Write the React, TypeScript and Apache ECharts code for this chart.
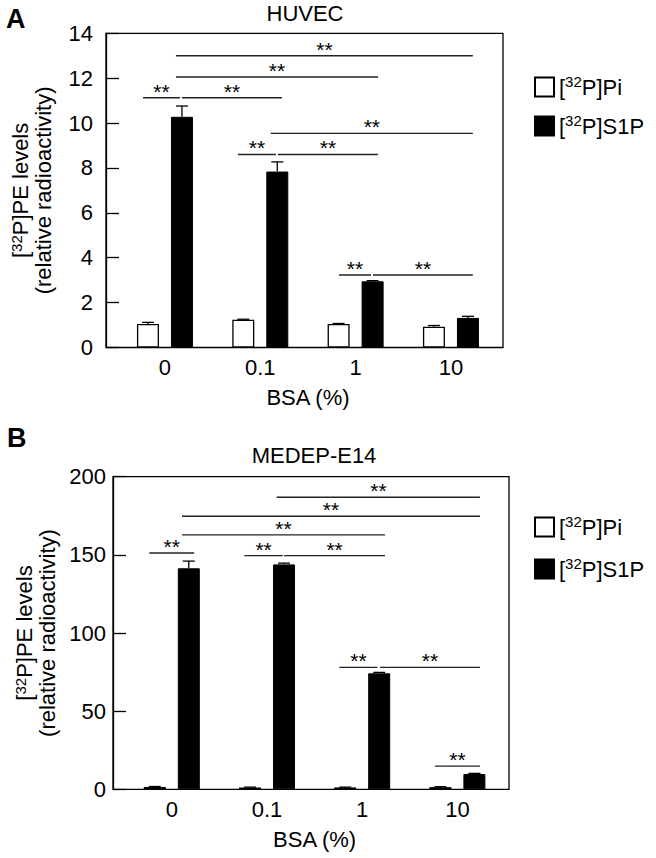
import React, { useEffect, useRef } from "react";
import * as echarts from "echarts";

const categories = ["0", "0.1", "1", "10"];
const seriesNames = ["[32P]Pi", "[32P]S1P"];

// Panel A: HUVEC
const huvecPi = [1.05, 1.24, 1.05, 0.93];
const huvecPiErr = [0.07, 0.02, 0.02, 0.05];
const huvecS1P = [10.28, 7.84, 2.95, 1.32];
const huvecS1PErr = [0.48, 0.43, 0.03, 0.07];
// significance brackets: [from (category units), to, level]
const huvecBrackets = [
  [0.115, 3.23, 13.0],
  [0.115, 2.235, 12.05],
  [-0.23, 0.157, 11.13],
  [0.178, 1.227, 11.13],
  [1.11, 3.23, 9.54],
  [0.766, 1.164, 8.6],
  [1.185, 2.234, 8.6],
  [1.825, 2.161, 3.23],
  [2.182, 3.23, 3.23],
];
const huvecTicks = [0, 14, 2];

// Panel B: MEDEP-E14
const medepPi = [1.5, 1.2, 1.2, 1.4];
const medepPiErr = [0.3, 0.2, 0.2, 0.3];
const medepS1P = [141.4, 143.9, 74.2, 9.8];
const medepS1PErr = [4.6, 0.8, 0.6, 0.4];
const medepBrackets = [
  [1.103, 3.237, 186.9],
  [0.107, 3.237, 174.7],
  [0.107, 2.24, 162.8],
  [-0.236, 0.235, 151.2],
  [0.762, 1.166, 149.5],
  [1.18, 2.24, 149.5],
  [1.76, 2.16, 78.0],
  [2.187, 3.237, 78.0],
  [2.765, 3.237, 14.8],
];
const medepTicks = [0, 200, 50];

const FONT = '"Liberation Sans", Arial, sans-serif';
const FS = 22;
const BAR_W = 22;
const BAR_GAP_PX = 12;

function sup(name: string) {
  return name.replace(/\[(\d+)/, "{n|[}{s|$1}{n|") + "}";
}

const richText = {
  n: { fontSize: FS, lineHeight: 26, fontFamily: FONT, color: "#000", verticalAlign: "middle" },
  s: { fontSize: 15, lineHeight: 15, fontFamily: FONT, color: "#000", verticalAlign: "top" },
};
const nameRich = {
  n: { fontSize: FS, lineHeight: 23, fontFamily: FONT, color: "#000", verticalAlign: "middle" },
  s: { fontSize: 15, lineHeight: 15, fontFamily: FONT, color: "#000", verticalAlign: "top" },
};

function errorSeries(name: string, vals: number[], errs: number[], sign: number, xAxisIndex: number, yAxisIndex: number) {
  const dx = (sign * (BAR_W + BAR_GAP_PX)) / 2;
  return {
    type: "custom",
    name: name + " err",
    xAxisIndex,
    yAxisIndex,
    z: 5,
    silent: true,
    data: vals.map((v, i) => [i, v, errs[i]]),
    encode: { x: 0, y: 1 },
    renderItem: (params: any, api: any) => {
      const c = api.coord([api.value(0), api.value(1)]);
      const t = api.coord([api.value(0), api.value(1) + api.value(2)]);
      const x = c[0] + dx;
      return {
        type: "group",
        children: [
          { type: "line", shape: { x1: x, y1: c[1], x2: x, y2: t[1] }, style: { stroke: "#000", lineWidth: 1.3 } },
          { type: "line", shape: { x1: x - 6, y1: t[1], x2: x + 6, y2: t[1] }, style: { stroke: "#000", lineWidth: 1.3 } },
        ],
      };
    },
  };
}

function bracketSeries(data: number[][], xAxisIndex: number, yAxisIndex: number) {
  return {
    type: "custom",
    xAxisIndex,
    yAxisIndex,
    z: 6,
    silent: true,
    data,
    encode: { x: [0, 1], y: 2 },
    renderItem: (params: any, api: any) => {
      const a = api.coord([api.value(0), api.value(2)]);
      const b = api.coord([api.value(1), api.value(2)]);
      return {
        type: "group",
        children: [
          { type: "line", shape: { x1: a[0], y1: a[1], x2: b[0], y2: b[1] }, style: { stroke: "#222", lineWidth: 1.4 } },
          {
            type: "text",
            x: (a[0] + b[0]) / 2,
            y: a[1] - 6.5,
            style: { text: "**", align: "center", verticalAlign: "middle", font: `21px ${FONT}`, fill: "#000" },
          },
        ],
      };
    },
  };
}

function panelAxes(
  frame: { left: number; top: number; width: number; height: number },
  bars: { left: number; width: number },
  ticks: number[],
  labelMargin: number,
  nameGap: number,
  gridBase: number
) {
  const grids = [
    { left: frame.left, top: frame.top, width: frame.width, height: frame.height, show: true, borderColor: "#000", borderWidth: 1.3, backgroundColor: "transparent" },
    { left: bars.left, top: frame.top, width: bars.width, height: frame.height },
  ];
  const xAxes = [
    { gridIndex: gridBase, type: "value", show: false, min: 0, max: 1 },
    {
      gridIndex: gridBase + 1,
      type: "category",
      data: categories,
      axisLine: { show: false },
      axisTick: { show: false },
      axisLabel: { color: "#000", fontSize: FS, fontFamily: FONT, margin: 9 },
      name: "BSA (%)",
      nameLocation: "middle",
      nameGap: 39,
      nameTextStyle: { color: "#000", fontSize: FS, fontFamily: FONT },
    },
    { gridIndex: gridBase + 1, type: "value", show: false, min: -0.5, max: 3.5 },
  ];
  const yAxes = [
    {
      gridIndex: gridBase,
      type: "value",
      min: ticks[0],
      max: ticks[1],
      interval: ticks[2],
      axisLine: { show: true, lineStyle: { color: "#000", width: 1.3 } },
      axisTick: { show: true, inside: true, length: 13, lineStyle: { color: "#000", width: 1.3 } },
      splitLine: { show: false },
      axisLabel: { color: "#000", fontSize: FS, fontFamily: FONT, margin: labelMargin },
      name: "{n|[}{s|32}{n|P]PE levels}\n{n|(relative radioactivity)}",
      nameLocation: "middle",
      nameRotate: 90,
      nameGap,
      nameTextStyle: { rich: nameRich },
    },
    { gridIndex: gridBase + 1, type: "value", show: false, min: ticks[0], max: ticks[1], interval: ticks[2] },
  ];
  return { grids, xAxes, yAxes };
}

export default function App() {
  const ref = useRef<HTMLDivElement>(null);
  useEffect(() => {
    if (!ref.current) return;
    const chart = echarts.init(ref.current, null, { renderer: "svg" });

    const A = panelAxes({ left: 106, top: 33.3, width: 397, height: 314.2 }, { left: 117.3, width: 381.3 }, huvecTicks, 13, 51, 0);
    const B = panelAxes({ left: 113, top: 476.7, width: 396, height: 312.6 }, { left: 124.2, width: 380.8 }, medepTicks, 7, 53, 2);

    const barStyles = [
      { color: "#fff", borderColor: "#000", borderWidth: 1.3 },
      { color: "#000", borderColor: "#000", borderWidth: 1 },
    ];

    const makeBars = (vals: number[], idx: number, xAxisIndex: number, yAxisIndex: number) => ({
      type: "bar",
      name: seriesNames[idx],
      xAxisIndex,
      yAxisIndex,
      data: vals,
      barWidth: BAR_W,
      barGap: `${(BAR_GAP_PX / BAR_W) * 100}%`,
      itemStyle: barStyles[idx],
      silent: true,
    });

    const legendBase = {
      data: seriesNames,
      orient: "vertical",
      left: 529,
      icon: "rect",
      itemWidth: 19,
      itemHeight: 19,
      selectedMode: false,
      formatter: (name: string) => sup(name),
      textStyle: { rich: richText },
    };

    const option: any = {
      animation: false,
      backgroundColor: "#fff",
      grid: [...A.grids, ...B.grids],
      xAxis: [...A.xAxes, ...B.xAxes],
      yAxis: [...A.yAxes, ...B.yAxes],
      legend: [
        { ...legendBase, top: 69, itemGap: 15 },
        { ...legendBase, top: 509, itemGap: 18 },
      ],
      graphic: [
        { type: "text", x: 6, y: 19, style: { text: "A", font: `bold 27px ${FONT}`, fill: "#000", align: "left", verticalAlign: "middle" } },
        { type: "text", x: 305, y: 13.5, style: { text: "HUVEC", font: `22px ${FONT}`, fill: "#000", align: "center", verticalAlign: "middle" } },
        { type: "text", x: 7, y: 437.5, style: { text: "B", font: `bold 27px ${FONT}`, fill: "#000", align: "left", verticalAlign: "middle" } },
        { type: "text", x: 314, y: 455, style: { text: "MEDEP-E14", font: `22px ${FONT}`, fill: "#000", align: "center", verticalAlign: "middle" } },
      ],
      series: [
        makeBars(huvecPi, 0, 1, 1),
        makeBars(huvecS1P, 1, 1, 1),
        errorSeries("Pi", huvecPi, huvecPiErr, -1, 1, 1),
        errorSeries("S1P", huvecS1P, huvecS1PErr, 1, 1, 1),
        bracketSeries(huvecBrackets, 2, 1),
        makeBars(medepPi, 0, 4, 3),
        makeBars(medepS1P, 1, 4, 3),
        errorSeries("Pi", medepPi, medepPiErr, -1, 4, 3),
        errorSeries("S1P", medepS1P, medepS1PErr, 1, 4, 3),
        bracketSeries(medepBrackets, 5, 3),
      ],
    };
    chart.setOption(option);
    return () => chart.dispose();
  }, []);
  return <div ref={ref} style={{ position: "absolute", left: 0, top: 0, width: 656, height: 858, background: "#fff" }} />;
}
